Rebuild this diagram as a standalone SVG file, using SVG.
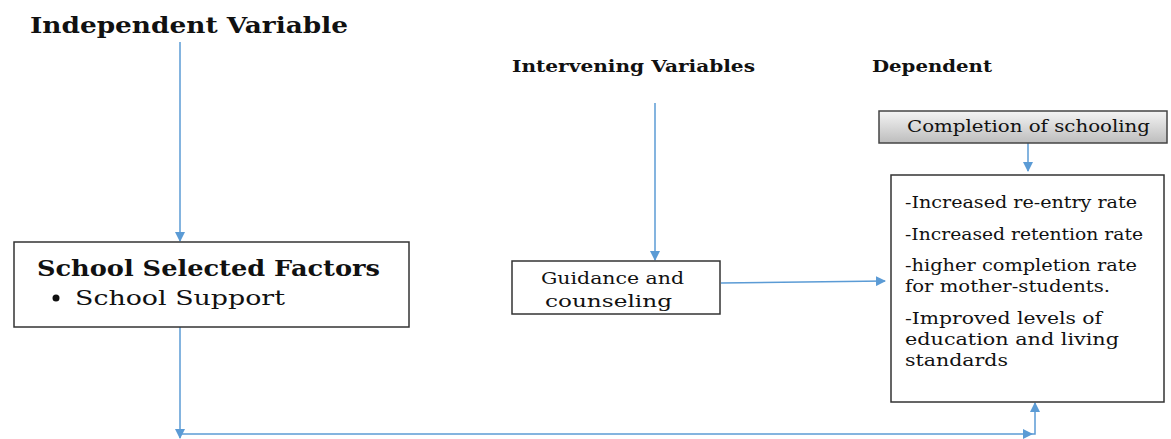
<svg xmlns="http://www.w3.org/2000/svg" width="1171" height="439" viewBox="0 0 1171 439">
<defs>
<linearGradient id="g" x1="0" y1="0" x2="0" y2="1">
<stop offset="0" stop-color="#f4f4f4"/>
<stop offset="1" stop-color="#bdbdbd"/>
</linearGradient>
<marker id="ah" viewBox="0 0 10 10" refX="9" refY="5" markerWidth="10" markerHeight="10" markerUnits="userSpaceOnUse" orient="auto">
<path d="M0,0 L10,5 L0,10 Z" fill="#5b9bd5"/>
</marker>
</defs>
<style>
.t{font-family:"DejaVu Serif","Liberation Serif",serif;fill:#111}
.b{font-weight:bold}
.box{fill:#fff;stroke:#333;stroke-width:1.5}
.c{fill:none;stroke:#5b9bd5;stroke-width:1.5}
</style>
<rect width="1171" height="439" fill="#fff"/>
<g id="labels">
<text class="t b" x="30" y="33" font-size="22" textLength="318" lengthAdjust="spacingAndGlyphs">Independent Variable</text>
<text class="t b" x="512" y="72" font-size="16" textLength="243" lengthAdjust="spacingAndGlyphs">Intervening Variables</text>
<text class="t b" x="872" y="72" font-size="16" textLength="120" lengthAdjust="spacingAndGlyphs">Dependent</text>
</g>
<g id="connectors">
<line class="c" x1="180" y1="42" x2="180" y2="241" marker-end="url(#ah)"/>
<line class="c" x1="180" y1="327" x2="180" y2="438" marker-end="url(#ah)"/>
<line class="c" x1="180" y1="434" x2="1032" y2="434" marker-end="url(#ah)"/>
<polyline class="c" points="1032,434 1035,434 1035,403" marker-end="url(#ah)"/>
<line class="c" x1="655" y1="103" x2="655" y2="260" marker-end="url(#ah)"/>
<line class="c" x1="721" y1="283" x2="885" y2="281" marker-end="url(#ah)"/>
<line class="c" x1="1028" y1="143" x2="1028" y2="171" marker-end="url(#ah)"/>
</g>
<g id="school-factors">
<rect class="box" x="14" y="242" width="395" height="85"/>
<text class="t b" x="37" y="276" font-size="22" textLength="343" lengthAdjust="spacingAndGlyphs">School Selected Factors</text>
<circle cx="56" cy="298" r="3.5" fill="#111"/>
<text class="t" x="75" y="305" font-size="21" textLength="210" lengthAdjust="spacingAndGlyphs">School Support</text>
</g>
<g id="guidance">
<rect class="box" x="512" y="261" width="208" height="53"/>
<text class="t" x="541" y="284" font-size="16" textLength="143" lengthAdjust="spacingAndGlyphs">Guidance and</text>
<text class="t" x="545" y="307" font-size="16" textLength="127" lengthAdjust="spacingAndGlyphs">counseling</text>
</g>
<g id="completion">
<rect x="879" y="111" width="288" height="32" fill="url(#g)" stroke="#444" stroke-width="1.5"/>
<text class="t" x="907" y="132" font-size="16" textLength="243" lengthAdjust="spacingAndGlyphs">Completion of schooling</text>
</g>
<g id="dependent">
<rect class="box" x="891" y="175" width="273" height="227"/>
<text class="t" x="905" y="208" font-size="16" textLength="232" lengthAdjust="spacingAndGlyphs">-Increased re-entry rate</text>
<text class="t" x="905" y="240" font-size="16" textLength="238" lengthAdjust="spacingAndGlyphs">-Increased retention rate</text>
<text class="t" x="905" y="271" font-size="16" textLength="232" lengthAdjust="spacingAndGlyphs">-higher completion rate</text>
<text class="t" x="905" y="292" font-size="16" textLength="205" lengthAdjust="spacingAndGlyphs">for mother-students.</text>
<text class="t" x="905" y="324" font-size="16" textLength="197" lengthAdjust="spacingAndGlyphs">-Improved levels of</text>
<text class="t" x="905" y="345" font-size="16" textLength="214" lengthAdjust="spacingAndGlyphs">education and living</text>
<text class="t" x="905" y="366" font-size="16" textLength="103" lengthAdjust="spacingAndGlyphs">standards</text>
</g>
</svg>
